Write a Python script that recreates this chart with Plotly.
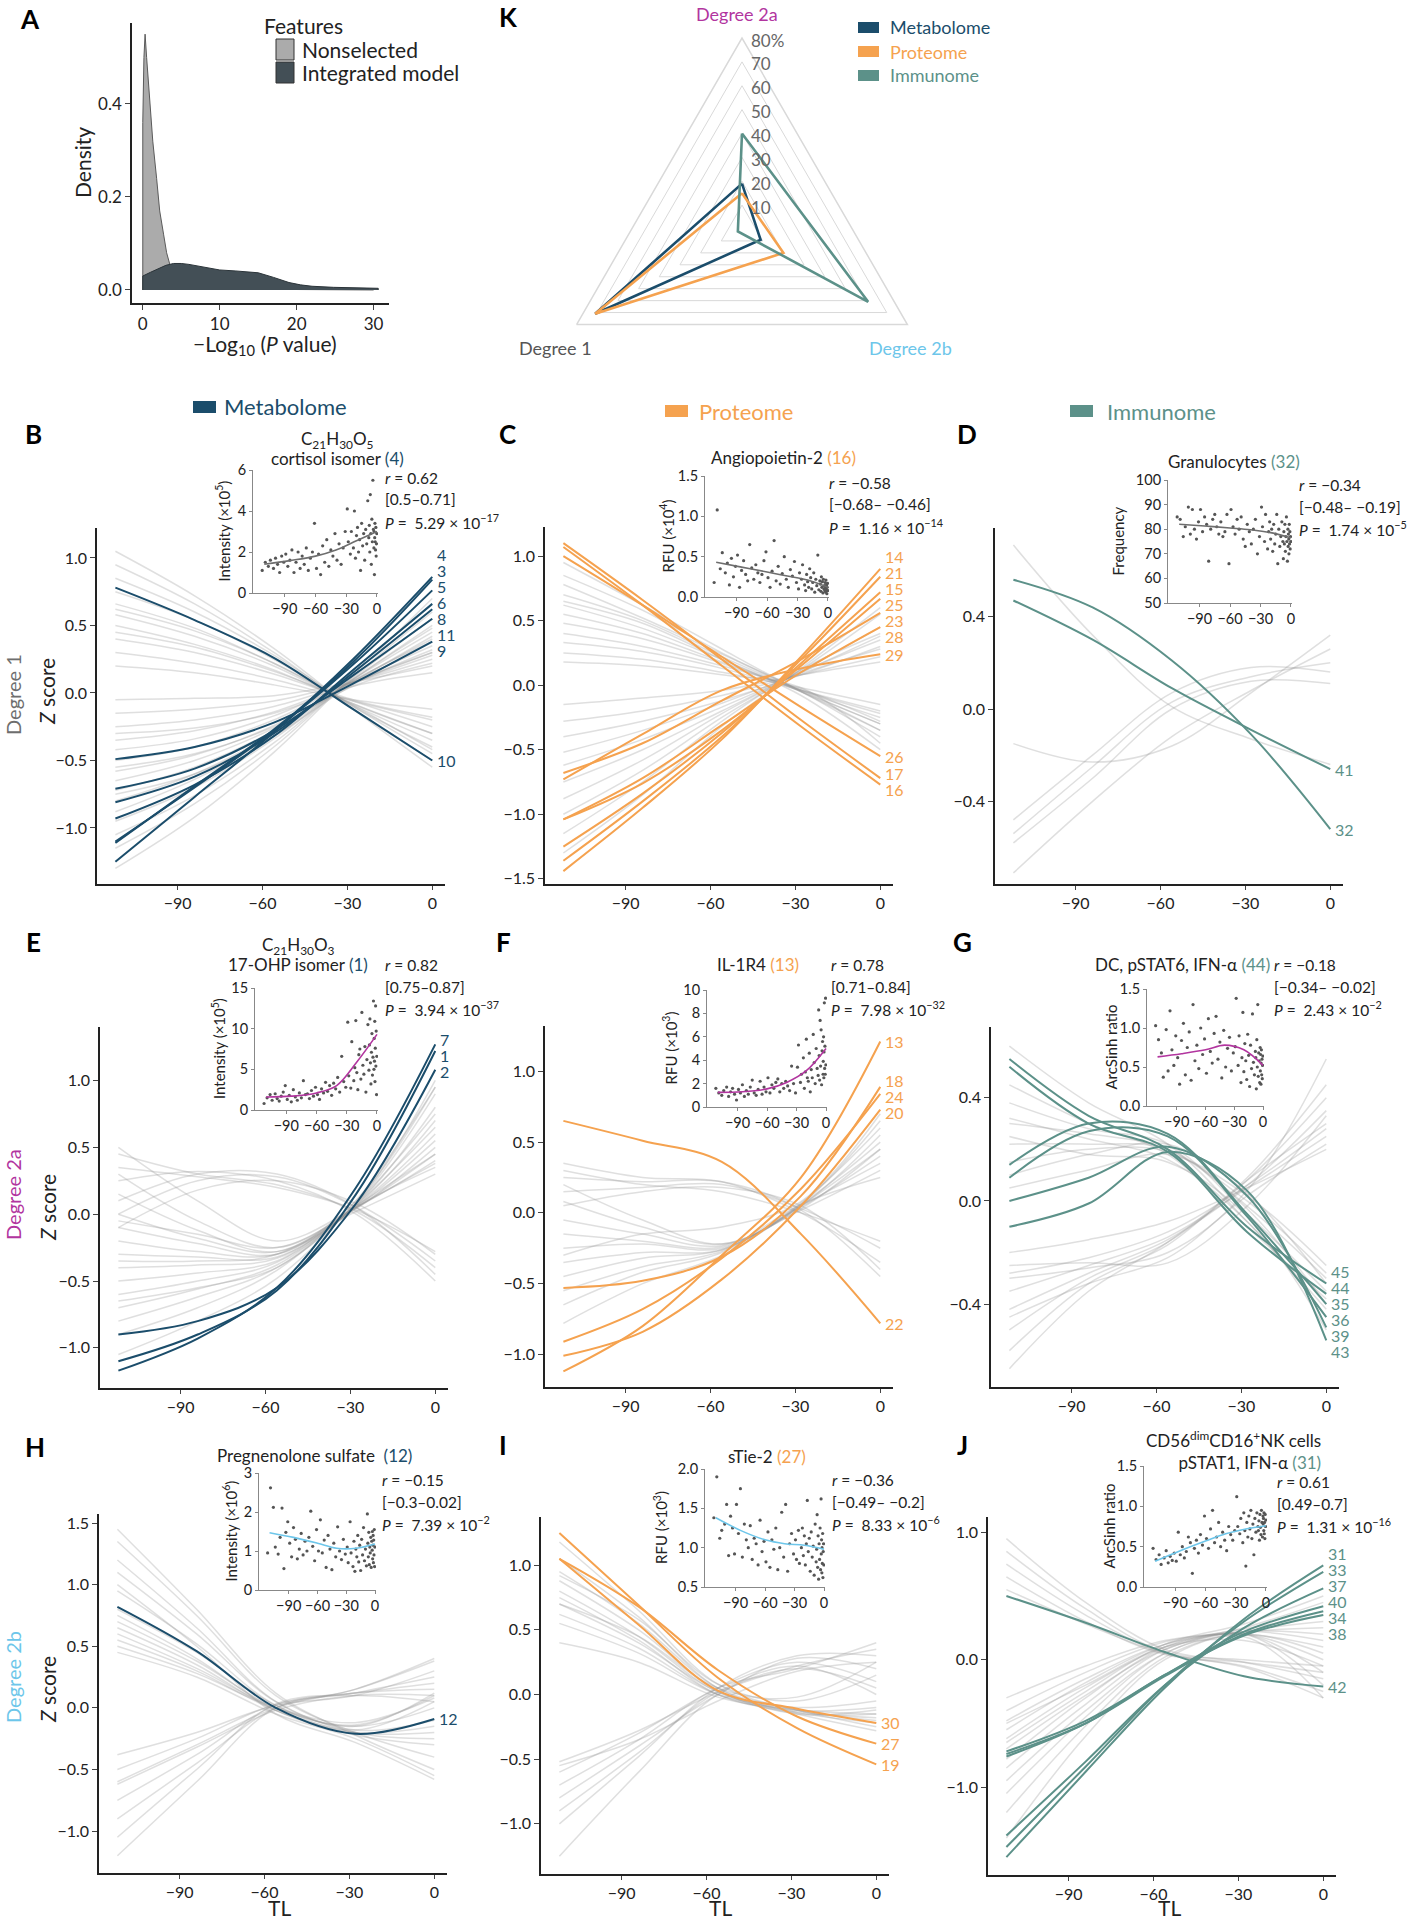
import plotly.graph_objects as go

W, H = 1409, 1920
FONT = 'Lato'

MET, PRO, IMM = '#1b4d6b', '#f5a24f', '#5c9189'
DEG1, DEG2A, DEG2B = '#6e6e6e', '#b2359f', '#6dc6ea'
GRAYLINE = 'rgba(150,150,150,0.30)'

# ---------------- Panel A: densities ----------------
A_NONSEL_X = [0, 0, 0.15, 0.3, 0.5, 0.9, 1.3, 1.8, 2.2, 2.7, 3.1, 3.6, 4.2, 4.9, 6, 8, 10, 15, 20, 25, 30, 30]
A_NONSEL_Y = [0, 0.36, 0.50, 0.55, 0.50, 0.41, 0.32, 0.24, 0.17, 0.12, 0.08, 0.05, 0.03, 0.015, 0.006, 0.004, 0.002, 0.0015, 0.001, 0.0008, 0.0005, 0]
A_INT_X = [0, 0, 1, 2, 3, 4, 5, 6, 7, 8, 10, 12, 14, 15, 17, 19, 20.5, 22, 24.8, 27, 30.6, 30.6]
A_INT_Y = [0, 0.030, 0.038, 0.046, 0.053, 0.057, 0.057, 0.055, 0.052, 0.048, 0.043, 0.041, 0.039, 0.037, 0.027, 0.016, 0.011, 0.008, 0.0057, 0.0045, 0.0036, 0]
A_LEGEND = ['Nonselected', 'Integrated model']

# ---------------- Panel K: radar ----------------
K_AXES = ['Degree 2a', 'Degree 2b', 'Degree 1']
K_METABOLOME = [19, 9, 71]
K_PROTEOME = [15, 20, 71]
K_IMMUNOME = [40, 61, 2]
K_TICKS = [10, 20, 30, 40, 50, 60, 70, 80]
K_TICKTEXT = ['10', '20', '30', '40', '50', '60', '70', '80%']
K_SERIES = ['Metabolome', 'Proteome', 'Immunome']

# ---------------- Trajectories (Z score at TL grid) ----------------
TL_GRID = [-112, -84, -56, -28, 0]

B_LABELS = ['4', '3', '5', '6', '8', '11', '9', '10']
B_LINES = [
    [-1.25, -0.77, -0.29, 0.25, 0.86],
    [-1.11, -0.69, -0.27, 0.23, 0.84],
    [-1.10, -0.70, -0.28, 0.21, 0.76],
    [-0.93, -0.68, -0.32, 0.17, 0.66],
    [-0.81, -0.62, -0.30, 0.15, 0.62],
    [-0.71, -0.56, -0.28, 0.13, 0.55],
    [-0.49, -0.40, -0.22, 0.07, 0.38],
    [0.78, 0.54, 0.26, -0.12, -0.50],
]
B_GRAY = [
    [-0.05, -0.04, -0.02, 0.08, 0.20], [-0.15, -0.12, -0.06, 0.08, 0.25],
    [-0.25, -0.20, -0.10, 0.08, 0.28], [-0.35, -0.28, -0.14, 0.08, 0.30],
    [-0.42, -0.34, -0.17, 0.09, 0.35], [-0.50, -0.40, -0.20, 0.08, 0.30],
    [-0.58, -0.46, -0.24, 0.09, 0.40], [-0.65, -0.50, -0.26, 0.08, 0.42],
    [-0.72, -0.55, -0.28, 0.10, 0.45], [-0.80, -0.60, -0.30, 0.09, 0.38],
    [-0.88, -0.64, -0.32, 0.10, 0.50], [-0.95, -0.70, -0.34, 0.10, 0.48],
    [-1.05, -0.76, -0.37, 0.11, 0.55], [-1.15, -0.82, -0.40, 0.12, 0.60],
    [-1.30, -0.92, -0.44, 0.13, 0.70], [-0.30, -0.26, -0.15, 0.05, 0.15],
    [-0.55, -0.45, -0.25, 0.05, 0.22], [-0.75, -0.60, -0.32, 0.06, 0.32],
    [0.20, 0.15, 0.06, -0.05, -0.12], [0.30, 0.22, 0.10, -0.06, -0.20],
    [0.40, 0.30, 0.14, -0.06, -0.25], [0.50, 0.36, 0.17, -0.08, -0.30],
    [0.58, 0.42, 0.20, -0.09, -0.35], [0.66, 0.48, 0.22, -0.08, -0.30],
    [0.75, 0.54, 0.25, -0.10, -0.40], [0.85, 0.60, 0.28, -0.10, -0.45],
    [0.95, 0.66, 0.30, -0.12, -0.50], [1.05, 0.72, 0.33, -0.12, -0.55],
    [0.45, 0.34, 0.16, -0.05, -0.18], [0.62, 0.46, 0.22, -0.09, -0.42],
]

C_LABELS = ['14', '21', '15', '25', '23', '28', '29', '26', '17', '16']
C_LINES = [
    [-1.44, -0.95, -0.42, 0.22, 0.90],
    [-1.36, -0.90, -0.40, 0.20, 0.84],
    [-1.25, -0.84, -0.37, 0.17, 0.72],
    [-1.04, -0.76, -0.35, 0.15, 0.67],
    [-0.68, -0.45, -0.12, 0.20, 0.56],
    [-1.04, -0.72, -0.31, 0.10, 0.45],
    [-0.73, -0.38, -0.04, 0.13, 0.24],
    [1.00, 0.62, 0.22, -0.17, -0.55],
    [1.10, 0.66, 0.20, -0.27, -0.72],
    [1.07, 0.62, 0.15, -0.32, -0.77],
]
C_GRAY = [
    [0.95, 0.62, 0.28, -0.05, -0.35], [0.85, 0.58, 0.25, -0.04, -0.30],
    [0.78, 0.52, 0.24, -0.05, -0.40], [0.70, 0.50, 0.22, -0.04, -0.25],
    [0.62, 0.44, 0.20, -0.05, -0.30], [0.55, 0.40, 0.18, -0.05, -0.35],
    [0.48, 0.36, 0.17, -0.04, -0.22], [0.40, 0.30, 0.15, -0.03, -0.28],
    [0.33, 0.26, 0.13, -0.04, -0.20], [0.25, 0.20, 0.10, -0.02, -0.15],
    [0.18, 0.15, 0.08, -0.02, -0.45], [0.65, 0.48, 0.20, -0.08, -0.50],
    [-0.15, -0.10, -0.04, 0.08, 0.18], [-0.28, -0.20, -0.08, 0.08, 0.22],
    [-0.40, -0.28, -0.12, 0.08, 0.30], [-0.52, -0.35, -0.14, 0.09, 0.28],
    [-0.62, -0.42, -0.17, 0.10, 0.38], [-0.75, -0.50, -0.20, 0.10, 0.35],
    [-0.88, -0.58, -0.22, 0.11, 0.45], [-1.00, -0.66, -0.25, 0.12, 0.55],
    [-1.15, -0.75, -0.28, 0.12, 0.40], [-1.30, -0.85, -0.32, 0.13, 0.60],
]

D_LABELS = ['41', '32']
D_LINES = [
    [0.47, 0.30, 0.09, -0.09, -0.26],
    [0.56, 0.44, 0.21, -0.11, -0.52],
]
D_GRAY = [
    [0.71, 0.32, 0.01, -0.13, -0.24], [-0.15, -0.23, -0.16, 0.07, 0.32],
    [-0.48, -0.20, 0.07, 0.18, 0.16], [-0.54, -0.25, 0.03, 0.14, 0.20],
    [-0.58, -0.30, 0.00, 0.12, 0.11], [-0.71, -0.40, -0.12, 0.08, 0.26],
]

E_LABELS = ['7', '1', '2']
E_LINES = [
    [-1.17, -0.93, -0.55, 0.20, 1.27],
    [-1.10, -0.90, -0.57, 0.15, 1.22],
    [-0.90, -0.80, -0.55, 0.08, 1.08],
]
E_GRAY = [
    [0.45, 0.30, 0.22, 0.02, -0.40], [0.10, 0.30, 0.30, 0.05, -0.45],
    [0.00, 0.25, 0.28, 0.05, -0.35], [0.25, 0.32, 0.25, 0.00, -0.50],
    [-0.10, 0.18, 0.25, 0.08, -0.30], [0.35, 0.28, 0.20, 0.03, -0.28],
    [0.50, 0.10, -0.20, 0.05, 0.40], [0.30, -0.05, -0.25, 0.05, 0.45],
    [0.15, -0.12, -0.28, 0.04, 0.50], [0.00, -0.18, -0.28, 0.06, 0.60],
    [-0.10, -0.22, -0.30, 0.05, 0.38], [-0.20, -0.28, -0.30, 0.06, 0.70],
    [-0.30, -0.32, -0.32, 0.05, 0.55], [-0.40, -0.38, -0.33, 0.07, 0.80],
    [-0.50, -0.44, -0.35, 0.06, 0.45], [-0.60, -0.50, -0.36, 0.08, 0.90],
    [-0.70, -0.56, -0.38, 0.07, 0.65], [-0.80, -0.62, -0.40, 0.08, 1.00],
    [-0.90, -0.70, -0.42, 0.08, 0.75], [-0.05, -0.15, -0.25, 0.02, 0.30],
    [-0.35, -0.35, -0.30, 0.10, 0.95], [-0.65, -0.55, -0.40, 0.05, 0.35],
    [-1.05, -0.80, -0.48, 0.10, 0.95],
]

F_LABELS = ['13', '18', '24', '20', '22']
F_LINES = [
    [-1.12, -0.80, -0.30, 0.25, 1.21],
    [-0.53, -0.48, -0.31, 0.12, 0.89],
    [-0.91, -0.68, -0.32, 0.17, 0.84],
    [-1.01, -0.84, -0.47, 0.05, 0.73],
    [0.65, 0.51, 0.36, -0.15, -0.78],
]
F_GRAY = [
    [0.35, 0.25, 0.22, 0.00, -0.35], [0.25, 0.22, 0.22, 0.02, -0.45],
    [0.15, 0.18, 0.20, 0.03, -0.25], [0.05, 0.15, 0.18, 0.05, -0.40],
    [0.30, 0.20, 0.15, 0.00, -0.20], [0.20, -0.05, -0.22, 0.02, 0.30],
    [0.08, -0.10, -0.22, 0.03, 0.45], [-0.05, -0.15, -0.23, 0.05, 0.55],
    [-0.15, -0.20, -0.24, 0.04, 0.40], [-0.25, -0.22, -0.25, 0.06, 0.65],
    [-0.35, -0.28, -0.26, 0.05, 0.35], [-0.45, -0.32, -0.26, 0.06, 0.50],
    [-0.55, -0.38, -0.27, 0.06, 0.25], [-0.65, -0.42, -0.28, 0.07, 0.60],
    [-0.78, -0.50, -0.30, 0.05, 0.45], [-0.30, -0.15, -0.10, 0.08, 0.70],
]

G_LABELS = ['45', '44', '35', '36', '39', '43']
G_LINES = [
    [0.55, 0.33, 0.20, -0.10, -0.32],
    [0.52, 0.30, 0.19, -0.12, -0.36],
    [0.14, 0.30, 0.26, -0.05, -0.40],
    [0.09, 0.27, 0.25, -0.06, -0.45],
    [0.00, 0.09, 0.21, 0.02, -0.49],
    [-0.10, -0.01, 0.19, 0.04, -0.54],
]
G_GRAY = [
    [0.38, 0.28, 0.22, -0.05, -0.35], [0.30, 0.26, 0.20, -0.02, -0.30],
    [0.22, 0.22, 0.20, -0.03, -0.40], [0.15, 0.20, 0.19, 0.00, -0.28],
    [0.05, 0.12, 0.18, 0.02, -0.25], [0.32, 0.24, 0.16, -0.08, -0.45],
    [0.45, 0.30, 0.18, -0.10, -0.38], [0.25, 0.18, 0.15, -0.06, -0.50],
    [0.10, 0.18, 0.22, 0.03, -0.32], [0.60, 0.38, 0.22, -0.08, -0.42],
    [-0.20, -0.15, -0.08, 0.05, 0.20], [-0.28, -0.22, -0.12, 0.06, 0.28],
    [-0.35, -0.25, -0.14, 0.05, 0.25], [-0.42, -0.28, -0.15, 0.06, 0.35],
    [-0.50, -0.30, -0.16, 0.08, 0.40], [-0.58, -0.32, -0.17, 0.08, 0.30],
    [-0.65, -0.35, -0.16, 0.09, 0.45], [-0.30, -0.26, -0.20, 0.04, 0.55],
    [-0.45, -0.32, -0.22, 0.02, 0.22], [-0.25, -0.24, -0.24, -0.02, 0.33],
]

H_LABELS = ['12']
H_LINES = [[0.82, 0.46, 0.00, -0.21, -0.09]]
H_GRAY = [
    [1.45, 0.80, 0.12, -0.22, -0.50], [1.35, 0.75, 0.10, -0.20, -0.40],
    [1.20, 0.65, 0.05, -0.20, -0.25], [1.10, 0.60, 0.05, -0.18, -0.10],
    [0.95, 0.52, 0.02, -0.18, 0.05], [0.80, 0.45, 0.02, -0.15, 0.12],
    [0.75, 0.40, -0.02, -0.22, -0.30], [0.70, 0.38, 0.00, -0.15, 0.00],
    [0.65, 0.35, -0.02, -0.20, -0.15], [0.60, 0.32, 0.00, -0.14, 0.10],
    [0.55, 0.30, -0.02, -0.20, -0.20], [0.50, 0.28, 0.00, -0.12, 0.08],
    [0.45, 0.25, -0.05, -0.25, -0.55], [1.00, 0.50, -0.05, -0.28, -0.58],
    [-0.38, -0.20, 0.02, 0.10, 0.30], [-0.50, -0.25, 0.03, 0.12, 0.20],
    [-0.60, -0.30, 0.00, 0.15, 0.38], [-0.62, -0.32, -0.02, 0.10, 0.10],
    [-0.75, -0.38, 0.02, 0.12, 0.15], [-0.90, -0.45, 0.00, 0.15, 0.40],
    [-1.05, -0.50, 0.03, 0.10, 0.05], [-1.20, -0.60, 0.00, 0.12, 0.25],
]

I_LABELS = ['30', '27', '19']
I_LINES = [
    [1.05, 0.54, 0.03, -0.11, -0.22],
    [1.05, 0.68, 0.19, -0.17, -0.38],
    [1.25, 0.69, 0.13, -0.26, -0.54],
]
I_GRAY = [
    [1.18, 0.65, 0.08, -0.12, -0.20], [1.05, 0.60, 0.05, -0.14, -0.15],
    [0.95, 0.55, 0.05, -0.12, -0.25], [0.88, 0.50, 0.03, -0.15, -0.12],
    [0.80, 0.45, 0.02, -0.13, -0.18], [0.75, 0.42, 0.00, -0.15, -0.28],
    [0.70, 0.40, 0.02, -0.12, -0.10], [0.62, 0.36, 0.00, -0.14, -0.22],
    [0.55, 0.32, 0.00, -0.10, -0.05], [0.40, 0.25, -0.02, -0.12, -0.15],
    [0.92, 0.58, 0.08, -0.05, 0.15], [0.70, 0.45, 0.05, -0.02, 0.25],
    [-0.52, -0.28, 0.02, 0.22, 0.35], [-0.60, -0.30, 0.05, 0.25, 0.10],
    [-0.70, -0.35, 0.05, 0.20, 0.40], [-0.80, -0.40, 0.00, 0.28, 0.20],
    [-0.90, -0.45, 0.02, 0.22, 0.00], [-1.00, -0.48, 0.05, 0.30, 0.30],
    [-1.25, -0.60, 0.00, 0.20, 0.05], [-0.55, -0.35, -0.05, 0.18, 0.25],
]

J_LABELS = ['31', '33', '37', '40', '34', '38', '42']
J_LINES = [
    [-1.55, -0.88, -0.22, 0.32, 0.74],
    [-1.47, -0.84, -0.20, 0.30, 0.69],
    [-1.38, -0.80, -0.20, 0.25, 0.56],
    [-0.72, -0.48, -0.12, 0.22, 0.42],
    [-0.74, -0.50, -0.13, 0.20, 0.38],
    [-0.76, -0.50, -0.12, 0.19, 0.35],
    [0.50, 0.29, 0.06, -0.13, -0.21],
]
J_GRAY = [
    [-0.30, -0.05, 0.15, 0.20, 0.10], [-0.40, -0.10, 0.14, 0.22, 0.25],
    [-0.48, -0.15, 0.12, 0.20, 0.00], [-0.55, -0.18, 0.12, 0.24, 0.35],
    [-0.62, -0.22, 0.10, 0.22, 0.15], [-0.70, -0.28, 0.08, 0.20, -0.10],
    [-0.78, -0.30, 0.10, 0.25, 0.45], [-0.85, -0.35, 0.08, 0.22, 0.20],
    [-0.95, -0.40, 0.05, 0.20, -0.20], [-1.05, -0.45, 0.05, 0.22, 0.30],
    [-1.20, -0.52, 0.02, 0.20, 0.05], [-1.40, -0.60, 0.00, 0.18, -0.30],
    [-0.50, -0.20, 0.10, 0.15, -0.05], [-0.65, -0.25, 0.12, 0.28, 0.50],
    [0.95, 0.45, 0.08, -0.02, -0.15], [0.85, 0.40, 0.06, 0.00, -0.05],
    [0.75, 0.35, 0.05, -0.05, -0.25], [0.65, 0.30, 0.04, -0.02, -0.10],
    [0.55, 0.28, 0.05, -0.06, -0.30],
]

# ---------------- Inset scatter data (shared sample TL) ----------------
TL_SAMPLES = [
    -112, -109, -106, -104, -101, -99, -97, -95, -93, -91,
    -89, -87, -85, -83, -81, -79, -77, -75, -73, -71,
    -69, -67, -65, -63, -61, -59, -57, -55, -53, -51,
    -49, -47, -45, -43, -41, -39, -37, -35, -33, -31,
    -29, -28, -26, -25, -23, -22, -21, -20, -19, -18,
    -17, -16, -15, -14, -13, -12, -11, -10, -9, -8,
    -7.5, -7, -6.5, -6, -5.5, -5, -4.5, -4, -3.5, -3,
    -2.8, -2.5, -2.2, -2, -1.7, -1.4, -1.1, -0.8, -0.5, -0.2,
]
B_PTS = [1.1, 1.5, 1.3, 1.6, 1.2, 1.7, 1.4, 1.0, 1.8, 1.5,
         1.9, 1.3, 1.6, 2.1, 1.0, 1.5, 2.0, 1.2, 1.8, 1.4,
         2.2, 1.1, 1.7, 2.0, 3.4, 1.2, 1.9, 0.9, 2.3, 1.5,
         2.6, 1.3, 2.1, 1.8, 2.9, 1.6, 2.4, 1.4, 2.2, 3.0,
         4.1, 2.5, 1.9, 3.0, 2.2, 4.0, 1.7, 2.8, 3.2, 2.0,
         2.6, 1.1, 3.4, 2.3, 2.9, 1.6, 3.1, 2.4, 4.5, 2.7,
         3.3, 2.0, 4.8, 2.9, 1.4, 3.6, 2.5, 5.5, 3.1, 2.2,
         3.0, 0.9, 2.7, 3.4, 2.5, 2.1, 3.2, 1.8, 2.4, 2.9]
C_PTS = [0.18, 1.08, 0.35, 0.55, 0.30, 0.42, 0.15, 0.48, 0.25, 0.38,
         0.52, 0.12, 0.33, 0.45, 0.28, 0.20, 0.65, 0.36, 0.22, 0.40,
         0.30, 0.18, 0.28, 0.45, 0.56, 0.24, 0.12, 0.32, 0.70, 0.20,
         0.38, 0.16, 0.29, 0.50, 0.22, 0.12, 0.34, 0.26, 0.44, 0.18,
         0.10, 0.30, 0.22, 0.40, 0.15, 0.08, 0.28, 0.19, 0.12, 0.35,
         0.24, 0.10, 0.18, 0.30, 0.06, 0.22, 0.14, 0.52, 0.09, 0.20,
         0.16, 0.07, 0.25, 0.12, 0.19, 0.05, 0.22, 0.10, 0.14, 0.08,
         0.18, 0.11, 0.06, 0.21, 0.09, 0.15, 0.04, 0.12, 0.17, 0.08]
D_PTS = [85, 84, 77, 81, 89, 78, 88, 80, 76, 83,
         88, 79, 85, 82, 67, 80, 84, 86, 81, 78,
         83, 77, 79, 86, 66, 88, 81, 78, 84, 80,
         85, 76, 73, 82, 79, 74, 80, 84, 70, 77,
         89, 81, 75, 86, 72, 79, 83, 76, 80, 71,
         82, 74, 78, 86, 66, 80, 73, 77, 83, 75,
         68, 79, 74, 82, 71, 77, 85, 75, 67, 80,
         73, 78, 76, 70, 82, 74, 79, 72, 77, 75]
E_PTS = [0.8, 1.5, 1.9, 1.2, 2.0, 1.4, 1.1, 1.7, 2.2, 3.0,
         1.3, 1.8, 1.0, 2.5, 1.6, 1.2, 2.1, 1.5, 3.6, 1.9,
         2.0, 1.4, 2.4, 1.7, 2.8, 1.9, 1.3, 2.6, 2.1, 3.4,
         2.3, 3.0, 1.8, 3.3, 2.6, 4.0, 2.2, 6.6, 3.5, 2.8,
         10.8, 4.2, 2.7, 8.4, 3.6, 5.2, 11.0, 4.6, 2.5, 6.8,
         7.5, 3.8, 12.0, 5.5, 4.4, 7.8, 2.2, 6.2, 10.5, 4.9,
         8.0, 11.2, 5.8, 3.2, 7.1, 9.4, 4.3, 6.5, 13.4, 5.0,
         8.8, 6.0, 10.9, 3.5, 7.6, 12.8, 5.4, 9.7, 1.9, 6.6]
F_PTS = [1.6, 1.2, 1.0, 1.4, 1.7, 0.9, 1.3, 1.6, 1.1, 0.6,
         1.5, 1.2, 1.9, 0.9, 1.4, 1.1, 1.7, 2.3, 1.2, 1.0,
         1.5, 2.2, 1.1, 1.7, 1.3, 2.5, 1.2, 1.9, 1.6, 2.1,
         2.4, 1.3, 2.0, 1.6, 2.2, 1.8, 1.4, 3.5, 2.0, 1.2,
         3.4, 5.3, 2.1, 2.8, 4.2, 1.6, 3.0, 5.8, 2.5, 2.2,
         4.6, 1.3, 3.2, 2.5, 6.2, 3.8, 2.0, 5.0, 3.3, 2.7,
         8.3, 4.4, 2.3, 7.4, 3.5, 6.6, 1.9, 4.8, 5.6, 2.8,
         3.9, 6.0, 2.5, 4.7, 8.9, 3.3, 5.2, 2.8, 9.3, 3.6]
G_PTS = [1.03, 0.85, 0.68, 0.37, 0.98, 0.45, 1.22, 0.72, 0.52, 0.90,
         0.62, 0.28, 0.84, 1.06, 0.40, 0.75, 0.95, 0.33, 1.30, 0.58,
         0.78, 0.48, 1.00, 0.66, 0.86, 0.42, 1.12, 0.70, 0.55, 0.93,
         1.15, 0.60, 0.82, 0.36, 0.97, 0.50, 0.74, 0.88, 0.45, 0.68,
         0.76, 1.38, 0.52, 0.90, 0.30, 0.62, 1.20, 0.44, 0.80, 0.58,
         0.34, 0.92, 0.65, 0.25, 0.78, 0.48, 1.18, 0.56, 0.40, 0.70,
         0.62, 0.22, 0.85, 0.50, 1.30, 0.38, 0.68, 0.58, 0.30, 0.75,
         0.45, 0.66, 0.28, 0.55, 0.72, 0.40, 0.60, 0.35, 0.52, 0.64]
H_PTS = [0.95, 2.62, 2.12, 1.10, 0.92, 1.35, 2.10, 0.55, 1.48, 1.75,
         1.20, 0.85, 1.60, 1.30, 0.80, 1.05, 1.45, 0.90, 1.25, 1.00,
         1.35, 2.02, 1.12, 0.75, 1.55, 1.00, 1.80, 0.95, 1.28, 0.58,
         1.40, 1.05, 0.52, 1.20, 0.85, 1.62, 1.00, 0.78, 1.30, 0.92,
         1.10, 0.70, 1.75, 0.95, 0.60, 1.25, 0.48, 1.05, 0.85, 1.40,
         0.72, 1.15, 0.50, 1.30, 0.90, 1.60, 0.75, 1.05, 0.62, 1.95,
         1.20, 0.85, 1.48, 0.65, 1.10, 0.95, 1.35, 0.58, 1.25, 1.02,
         1.50, 0.80, 1.15, 1.40, 0.70, 1.28, 0.90, 1.55, 0.60, 1.10]
I_PTS = [1.38, 1.90, 1.12, 1.22, 1.30, 1.55, 0.90, 1.40, 1.25, 0.92,
         1.55, 1.18, 1.75, 0.88, 1.30, 1.10, 1.00, 1.28, 0.85, 1.12,
         1.05, 0.78, 1.35, 0.95, 1.08, 0.82, 1.20, 0.75, 1.10, 0.98,
         1.25, 0.72, 1.00, 1.45, 0.88, 1.55, 0.70, 1.05, 1.18, 0.92,
         1.10, 0.85, 1.22, 0.80, 1.00, 1.25, 0.90, 1.15, 0.78, 1.05,
         1.60, 0.95, 1.12, 0.70, 1.20, 0.88, 1.02, 0.65, 1.30, 0.82,
         0.98, 1.42, 0.75, 1.15, 0.60, 1.05, 0.85, 1.25, 0.72, 1.62,
         0.92, 1.10, 0.68, 1.00, 0.80, 1.18, 0.62, 0.95, 1.05, 0.78]
J_PTS = [0.48, 0.34, 0.40, 0.28, 0.36, 0.45, 0.30, 0.38, 0.33, 0.42,
         0.32, 0.68, 0.40, 0.50, 0.36, 0.44, 0.62, 0.55, 0.17, 0.48,
         0.58, 0.42, 0.65, 0.52, 0.88, 0.60, 0.48, 0.72, 0.95, 0.55,
         0.62, 0.80, 0.50, 0.68, 0.58, 0.45, 0.75, 0.65, 0.58, 0.70,
         1.12, 0.75, 0.66, 0.85, 0.55, 0.92, 0.70, 0.26, 0.80, 0.62,
         0.88, 0.72, 0.95, 0.60, 0.78, 0.40, 0.85, 0.68, 0.92, 0.75,
         0.70, 0.82, 0.58, 0.90, 0.74, 0.65, 0.95, 0.80, 0.62, 0.88,
         0.78, 0.85, 0.70, 0.92, 0.66, 0.80, 0.60, 0.90, 0.75, 0.83]

TREND_TL = [-110, -85, -60, -40, -20, 0]
B_TREND = [1.40, 1.58, 1.80, 2.10, 2.55, 3.00]
C_TREND = [0.43, 0.37, 0.31, 0.26, 0.21, 0.12]
D_TREND = [82.0, 81.3, 80.5, 79.8, 78.6, 76.5]
E_TREND = [1.6, 1.7, 2.1, 3.0, 5.9, 9.3]
F_TREND = [1.25, 1.30, 1.55, 2.10, 3.10, 5.00]
G_TREND = [0.63, 0.67, 0.72, 0.78, 0.72, 0.52]
H_TREND = [1.47, 1.35, 1.20, 1.07, 1.07, 1.18]
I_TREND = [1.38, 1.22, 1.10, 1.05, 1.03, 0.98]
J_TREND = [0.32, 0.45, 0.57, 0.66, 0.72, 0.76]

# stats: r, CI, P mantissa, P exponent
B_STATS = ['0.62', '[0.5–0.71]', '5.29', '−17']
C_STATS = ['−0.58', '[−0.68– −0.46]', '1.16', '−14']
D_STATS = ['−0.34', '[−0.48– −0.19]', '1.74', '−5']
E_STATS = ['0.82', '[0.75–0.87]', '3.94', '−37']
F_STATS = ['0.78', '[0.71–0.84]', '7.98', '−32']
G_STATS = ['−0.18', '[−0.34– −0.02]', '2.43', '−2']
H_STATS = ['−0.15', '[−0.3–0.02]', '7.39', '−2']
I_STATS = ['−0.36', '[−0.49– −0.2]', '8.33', '−6']
J_STATS = ['0.61', '[0.49–0.7]', '1.31', '−16']


def col(t, c):
    return f"<span style='color:{c}'>{t}</span>"


PANELS = [
    dict(L='B', box=(97, 445, 528, 884), yr=(-1.415, 1.222), yt=[-1, -0.5, 0, 0.5, 1], c=MET,
         labels=B_LABELS, lines=B_LINES, gray=B_GRAY, lp=(33, 434),
         ibox=(253, 378, 470, 593), iyr=(0, 6), iyt=[0, 2, 4, 6], ifmt='d', pts=B_PTS, trend=B_TREND, tc=DEG1,
         iyt_title='Intensity (×10<sup>5</sup>)', iyx=223,
         titles=[('C<sub>21</sub>H<sub>30</sub>O<sub>5</sub>', 337, 440, 'center'),
                 ('cortisol isomer ' + col('(4)', MET), 337, 458, 'center')],
         stats=B_STATS, sxy=(383, 478)),
    dict(L='C', box=(545, 893, 527, 884), yr=(-1.54, 1.225), yt=[-1.5, -1, -0.5, 0, 0.5, 1], c=PRO,
         labels=C_LABELS, lines=C_LINES, gray=C_GRAY, lp=(507, 434),
         ibox=(705, 829, 476, 597), iyr=(0, 1.5), iyt=[0, 0.5, 1, 1.5], ifmt='.1f', pts=C_PTS, trend=C_TREND, tc=DEG1,
         iyt_title='RFU (×10<sup>4</sup>)', iyx=667,
         titles=[('Angiopoietin-2 ' + col('(16)', PRO), 783, 457, 'center')],
         stats=C_STATS, sxy=(827, 483)),
    dict(L='D', box=(995, 1343, 528, 884), yr=(-0.758, 0.784), yt=[-0.4, 0, 0.4], c=IMM,
         labels=D_LABELS, lines=D_LINES, gray=D_GRAY, lp=(967, 434),
         ibox=(1168, 1292, 480, 603), iyr=(50, 100), iyt=[50, 60, 70, 80, 90, 100], ifmt='d', pts=D_PTS, trend=D_TREND, tc=DEG1,
         iyt_title='Frequency', iyx=1118,
         titles=[('Granulocytes ' + col('(32)', IMM), 1234, 462, 'center')],
         stats=D_STATS, sxy=(1297, 485)),
    dict(L='E', box=(100, 448, 1027, 1388), yr=(-1.30, 1.40), yt=[-1, -0.5, 0, 0.5, 1], c=MET,
         labels=E_LABELS, lines=E_LINES, gray=E_GRAY, lp=(33, 942),
         ibox=(255, 378, 988, 1110), iyr=(0, 15), iyt=[0, 5, 10, 15], ifmt='d', pts=E_PTS, trend=E_TREND, tc=DEG2A,
         iyt_title='Intensity (×10<sup>5</sup>)', iyx=218,
         titles=[('C<sub>21</sub>H<sub>30</sub>O<sub>3</sub>', 298, 946, 'center'),
                 ('17-OHP isomer ' + col('(1)', MET), 298, 965, 'center')],
         stats=E_STATS, sxy=(383, 965)),
    dict(L='F', box=(545, 893, 1026, 1387), yr=(-1.23, 1.32), yt=[-1, -0.5, 0, 0.5, 1], c=PRO,
         labels=F_LABELS, lines=F_LINES, gray=F_GRAY, lp=(503, 942),
         ibox=(707, 827, 990, 1107), iyr=(0, 10), iyt=[0, 2, 4, 6, 8, 10], ifmt='d', pts=F_PTS, trend=F_TREND, tc=DEG2A,
         iyt_title='RFU (×10<sup>3</sup>)', iyx=670,
         titles=[('IL-1R4 ' + col('(13)', PRO), 758, 965, 'center')],
         stats=F_STATS, sxy=(829, 965)),
    dict(L='G', box=(991, 1339, 1027, 1387), yr=(-0.721, 0.674), yt=[-0.4, 0, 0.4], c=IMM,
         labels=G_LABELS, lines=G_LINES, gray=G_GRAY, lp=(962, 942),
         ibox=(1147, 1264, 989, 1106), iyr=(0, 1.5), iyt=[0, 0.5, 1, 1.5], ifmt='.1f', pts=G_PTS, trend=G_TREND, tc=DEG2A,
         iyt_title='ArcSinh ratio', iyx=1110,
         titles=[('DC, pSTAT6, IFN-α ' + col('(44)', IMM), 1272, 965, 'right')],
         stats=G_STATS, sxy=(1272, 965)),
    dict(L='H', box=(99, 447, 1514, 1873), yr=(-1.34, 1.573), yt=[-1, -0.5, 0, 0.5, 1, 1.5], c=MET,
         labels=H_LABELS, lines=H_LINES, gray=H_GRAY, lp=(35, 1447),
         ibox=(259, 376, 1473, 1590), iyr=(0, 3), iyt=[0, 1, 2, 3], ifmt='d', pts=H_PTS, trend=H_TREND, tc=DEG2B,
         iyt_title='Intensity (×10<sup>6</sup>)', iyx=230,
         titles=[('Pregnenolone sulfate  ' + col('(12)', MET), 314, 1455, 'center')],
         stats=H_STATS, sxy=(380, 1480)),
    dict(L='I', box=(541, 889, 1517, 1874), yr=(-1.388, 1.373), yt=[-1, -0.5, 0, 0.5, 1], c=PRO,
         labels=I_LABELS, lines=I_LINES, gray=I_GRAY, lp=(503, 1445),
         ibox=(705, 825, 1469, 1587), iyr=(0.5, 2.0), iyt=[0.5, 1, 1.5, 2], ifmt='.1f', pts=I_PTS, trend=I_TREND, tc=DEG2B,
         iyt_title='RFU (×10<sup>3</sup>)', iyx=660,
         titles=[('sTie-2 ' + col('(27)', PRO), 767, 1456, 'center')],
         stats=I_STATS, sxy=(830, 1480)),
    dict(L='J', box=(988, 1336, 1517, 1875), yr=(-1.69, 1.12), yt=[-1, 0, 1], c=IMM,
         labels=J_LABELS, lines=J_LINES, gray=J_GRAY, lp=(962, 1445),
         ibox=(1144, 1267, 1466, 1587), iyr=(0, 1.5), iyt=[0, 0.5, 1, 1.5], ifmt='.1f', pts=J_PTS, trend=J_TREND, tc=DEG2B,
         iyt_title='ArcSinh ratio', iyx=1108,
         titles=[('CD56<sup>dim</sup>CD16<sup>+</sup>NK cells<br>pSTAT1, IFN-α ' + col('(31)', IMM), 1323, 1450, 'right')],
         stats=J_STATS, sxy=(1275, 1482)),
]


def fx(x):
    return x / W


def fy(y):
    return 1 - y / H


def repel(vals, gap):
    idx = sorted(range(len(vals)), key=lambda i: -vals[i])
    pos = [vals[i] for i in idx]
    for _ in range(1000):
        moved = False
        for k in range(len(pos) - 1):
            d = pos[k] - pos[k + 1]
            if d < gap - 1e-9:
                s = (gap - d) / 2
                pos[k] += s
                pos[k + 1] -= s
                moved = True
        if not moved:
            break
    out = [0.0] * len(vals)
    for j, i in enumerate(idx):
        out[i] = pos[j]
    return out


fig = go.Figure()
layout = {}
ann = []
shapes = []


def txt(x, y, text, size=16, color='#222', xa='left', ya='middle', angle=0, **kw):
    ann.append(dict(x=fx(x), y=fy(y), xref='paper', yref='paper', text=text, showarrow=False,
                    xanchor=xa, yanchor=ya, textangle=angle,
                    font=dict(family=FONT, size=size, color=color), **kw))


# ---------------- Panel A ----------------
fig.add_trace(go.Scatter(x=A_NONSEL_X, y=A_NONSEL_Y, mode='lines', fill='tozeroy',
                         fillcolor='#ababab', line=dict(color='#5a5a5a', width=1),
                         xaxis='x', yaxis='y', showlegend=False, hoverinfo='skip'))
fig.add_trace(go.Scatter(x=A_INT_X, y=A_INT_Y, mode='lines', fill='tozeroy',
                         fillcolor='#434f56', line=dict(color='#2b3439', width=1),
                         xaxis='x', yaxis='y', showlegend=False, hoverinfo='skip'))
layout['xaxis'] = dict(domain=[fx(132), fx(389)], range=[-1.4, 32], tickvals=[0, 10, 20, 30],
                       showline=True, linecolor='#222', linewidth=1.5, ticks='outside', ticklen=5,
                       showgrid=False, zeroline=False, anchor='y', tickfont=dict(size=17, color='#222'))
layout['yaxis'] = dict(domain=[fy(303), fy(23)], range=[-0.028, 0.574], tickvals=[0, 0.2, 0.4],
                       tickformat='.1f', showline=True, linecolor='#222', linewidth=1.5, ticks='outside',
                       ticklen=5, showgrid=False, zeroline=False, anchor='x', tickfont=dict(size=17, color='#222'))
txt(30, 19, '<b>A</b>', size=26, color='#000', xa='center')
txt(82, 163, 'Density', size=21, angle=-90, xa='center')
txt(265, 345, '−Log<sub>10</sub> (<i>P</i> value)', size=21, xa='center')
txt(262, 25, 'Features', size=21)
for i, (name, fc) in enumerate(zip(A_LEGEND, ['#ababab', '#434f56'])):
    y0 = 39 + i * 23
    shapes.append(dict(type='rect', xref='paper', yref='paper', x0=fx(276), x1=fx(294),
                       y0=fy(y0 + 21), y1=fy(y0), fillcolor=fc, line=dict(color='#333', width=1)))
    txt(300, y0 + 10.5, name, size=21)

# ---------------- Panel K ----------------
for vals, c in zip([K_METABOLOME, K_PROTEOME, K_IMMUNOME], [MET, PRO, IMM]):
    fig.add_trace(go.Scatterpolar(r=vals + vals[:1], theta=K_AXES + K_AXES[:1], mode='lines',
                                  line=dict(color=c, width=2.6), subplot='polar',
                                  showlegend=False, hoverinfo='skip'))
layout['polar'] = dict(
    domain=dict(x=[fx(551), fx(933)], y=[fy(420), fy(38)]),
    bgcolor='rgba(0,0,0,0)', gridshape='linear',
    angularaxis=dict(rotation=90, direction='clockwise', type='category', categoryarray=K_AXES,
                     showticklabels=False, showgrid=False, ticks='', showline=True,
                     linecolor='#d9d9d9', linewidth=1.5),
    radialaxis=dict(range=[0, 80], tickvals=K_TICKS, ticktext=K_TICKTEXT, angle=90, showline=False,
                    gridcolor='#d9d9d9', gridwidth=1.2, ticks='',
                    tickfont=dict(family=FONT, size=17, color='#666')),
)
txt(508, 17, '<b>K</b>', size=26, color='#000', xa='center')
txt(737, 14, K_AXES[0], size=18, color=DEG2A, xa='center')
txt(555, 348, K_AXES[2], size=18, color='#555', xa='center')
txt(910, 348, K_AXES[1], size=18, color=DEG2B, xa='center')
for i, (name, c) in enumerate(zip(K_SERIES, [MET, PRO, IMM])):
    yc = 27.5 + i * 24
    shapes.append(dict(type='rect', xref='paper', yref='paper', x0=fx(858), x1=fx(879),
                       y0=fy(yc + 5.5), y1=fy(yc - 5.5), fillcolor=c, line=dict(width=0)))
    txt(888, yc, name, size=18, color=c)

# ---------------- Section headers ----------------
for name, c, rx, ry, tx in [('Metabolome', MET, 193, 407, 222), ('Proteome', PRO, 665, 411, 697),
                            ('Immunome', IMM, 1070, 411, 1105)]:
    shapes.append(dict(type='rect', xref='paper', yref='paper', x0=fx(rx), x1=fx(rx + 23),
                       y0=fy(ry + 6), y1=fy(ry - 6), fillcolor=c, line=dict(width=0)))
    txt(tx, ry, name, size=22, color=c)

# ---------------- Trajectory panels ----------------
for k, P in enumerate(PANELS):
    n = k + 2
    m = k + 11
    l, r, t, b = P['box']
    xa, ya = f'x{n}', f'y{n}'
    for g in P['gray']:
        fig.add_trace(go.Scatter(x=TL_GRID, y=g, mode='lines', line=dict(color=GRAYLINE, width=1.5, shape='spline'),
                                 xaxis=xa, yaxis=ya, showlegend=False, hoverinfo='skip'))
    for ln in P['lines']:
        fig.add_trace(go.Scatter(x=TL_GRID, y=ln, mode='lines', line=dict(color=P['c'], width=2, shape='spline'),
                                 xaxis=xa, yaxis=ya, showlegend=False, hoverinfo='skip'))
    layout[f'xaxis{n}'] = dict(domain=[fx(l), fx(r)], range=[-118.5, 4.5], tickvals=[-90, -60, -30, 0],
                               showline=True, linecolor='#222', linewidth=1.5, ticks='outside', ticklen=4,
                               showgrid=False, zeroline=False, anchor=ya, tickfont=dict(size=16, color='#222'))
    layout[f'yaxis{n}'] = dict(domain=[fy(b), fy(t)], range=list(P['yr']), tickvals=P['yt'], tickformat='.1f',
                               showline=True, linecolor='#222', linewidth=1.5, ticks='outside', ticklen=5,
                               showgrid=False, zeroline=False, anchor=xa, tickfont=dict(size=16, color='#222'))
    # line-end labels, repelled
    ppu = (b - t) / (P['yr'][1] - P['yr'][0])
    ends = [ln[-1] for ln in P['lines']]
    ly = repel(ends, 16.0 / ppu)
    for lab, yv in zip(P['labels'], ly):
        ann.append(dict(x=0, y=yv, xref=xa, yref=ya, text=lab, showarrow=False, xanchor='left',
                        yanchor='middle', xshift=3, font=dict(family=FONT, size=16, color=P['c'])))
    # panel letter
    txt(P['lp'][0], P['lp'][1], f"<b>{P['L']}</b>", size=26, color='#000', xa='center')

    # inset
    il, ir, it, ib = P['ibox']
    ixa, iya = f'x{m}', f'y{m}'
    fig.add_trace(go.Scatter(x=TL_SAMPLES, y=P['pts'], mode='markers',
                             marker=dict(size=3.2, color='#555'), xaxis=ixa, yaxis=iya,
                             showlegend=False, hoverinfo='skip'))
    fig.add_trace(go.Scatter(x=TREND_TL, y=P['trend'], mode='lines',
                             line=dict(color=P['tc'], width=1.6, shape='spline'), xaxis=ixa, yaxis=iya,
                             showlegend=False, hoverinfo='skip'))
    layout[f'xaxis{m}'] = dict(domain=[fx(il), fx(ir)], range=[-121, 1], tickvals=[-90, -60, -30, 0],
                               showline=True, linecolor='#888', linewidth=1, ticks='outside', ticklen=3,
                               tickcolor='#888', showgrid=False, zeroline=False, anchor=iya,
                               tickfont=dict(size=14.5, color='#222'))
    layout[f'yaxis{m}'] = dict(domain=[fy(ib), fy(it)], range=list(P['iyr']), tickvals=P['iyt'],
                               tickformat=P['ifmt'], showline=True, linecolor='#888', linewidth=1,
                               ticks='outside', ticklen=3, tickcolor='#888', showgrid=False, zeroline=False,
                               anchor=ixa, tickfont=dict(size=14.5, color='#222'))
    txt(P['iyx'], (it + ib) / 2, P['iyt_title'], size=15, angle=-90, xa='center')
    for (tt, x, y, al) in P['titles']:
        txt(x, y, tt, size=17, xa=al, align=al)
    sx, sy = P['sxy']
    st = P['stats']
    txt(sx, sy, f'<i>r</i> = {st[0]}', size=15.5)
    txt(sx, sy + 21.5, st[1], size=15.5)
    txt(sx, sy + 43, f'<i>P</i> =  {st[2]} × 10<sup>{st[3]}</sup>', size=15.5)

# ---------------- Row & axis titles ----------------
for lab, c, yc, zy in [('Degree 1', DEG1, 695, 692), ('Degree 2a', DEG2A, 1195, 1208), ('Degree 2b', DEG2B, 1677, 1690)]:
    txt(13, yc, lab, size=20, color=c, angle=-90, xa='center')
    txt(47, zy, '<i>Z</i> score', size=21, angle=-90, xa='center')
for x in [279, 720, 1169]:
    txt(x, 1922, 'TL', size=21, xa='center', ya='bottom')

layout.update(dict(width=W, height=H, margin=dict(l=0, r=0, t=0, b=0, pad=0, autoexpand=False),
                   paper_bgcolor='white', plot_bgcolor='rgba(0,0,0,0)',
                   font=dict(family=FONT, color='#222'),
                   annotations=ann, shapes=shapes, showlegend=False))
fig.update_layout(**layout)
fig.write_html('out.html', config={'displayModeBar': False},
               post_script="document.body.style.margin='0px';document.body.style.overflow='hidden';")
